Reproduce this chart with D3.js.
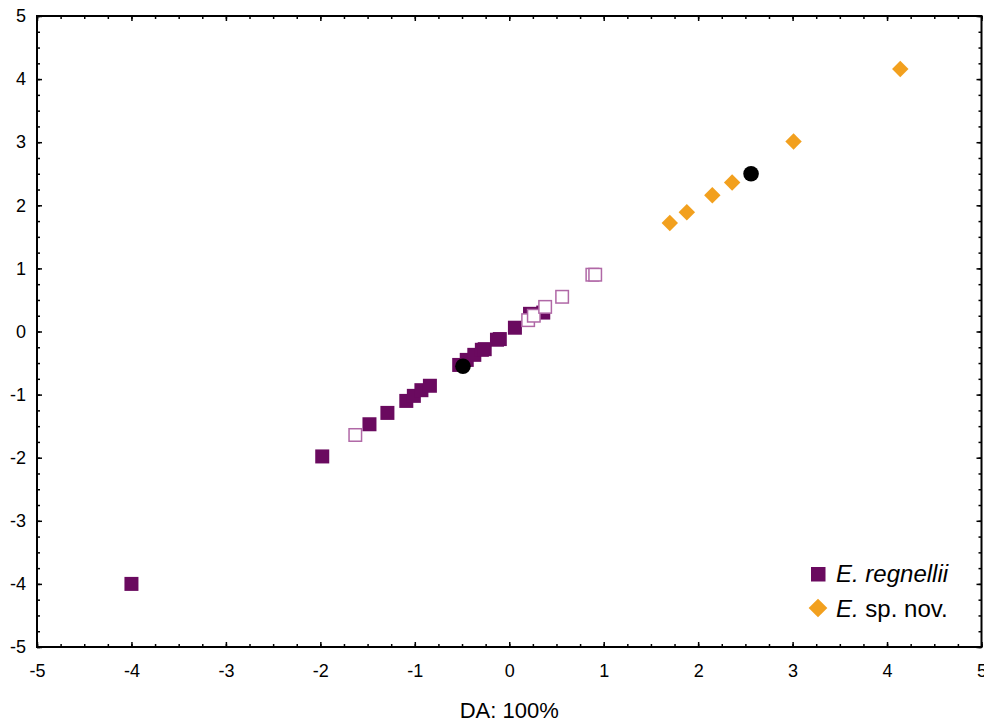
<!DOCTYPE html>
<html>
<head>
<meta charset="utf-8">
<script src="https://cdn.jsdelivr.net/npm/d3@7"></script>
<style>
  body { margin: 0; background: #fff; }
  svg text { font-family: "Liberation Sans", Arial, sans-serif; }
</style>
</head>
<body>
<div class="canvas"></div>
<script>
// data
const regX = [-4.0, -1.98, -1.48, -1.29, -1.09, -1.01, -0.93, -0.84, -0.53, -0.45, -0.37, -0.29, -0.26, -0.13, -0.10, 0.06, 0.22, 0.36];
const regY = [-4.0, -1.98, -1.47, -1.29, -1.10, -1.02, -0.93, -0.86, -0.53, -0.45, -0.37, -0.29, -0.28, -0.13, -0.12, 0.06, 0.28, 0.30];

const openX = [-1.63, 0.20, 0.26, 0.38, 0.56, 0.88, 0.91];
const openY = [-1.64, 0.18, 0.25, 0.39, 0.55, 0.90, 0.90];

const novX = [1.70, 1.88, 2.15, 2.36, 3.01, 4.14];
const novY = [1.72, 1.89, 2.16, 2.36, 3.01, 4.16];

const centX = [-0.49, 2.56];
const centY = [-0.55, 2.50];

const xTicks = [-5, -4, -3, -2, -1, 0, 1, 2, 3, 4, 5];
const yTicks = [5, 4, 3, 2, 1, 0, -1, -2, -3, -4, -5];

const purple = '#6a0a5f';
const openPurple = '#b068a6';
const orange = '#f2a01e';

const margin = { top: 16, right: 2.5, bottom: 79, left: 37 };
const width = 984, height = 726;
const graphWidth = width - margin.left - margin.right;
const graphHeight = height - margin.top - margin.bottom;

const svg = d3.select('.canvas')
  .append('svg')
  .attr('width', width)
  .attr('height', height);

const graph = svg.append('g')
  .attr('transform', `translate(${margin.left}, ${margin.top})`);

// scales
const x = d3.scaleLinear().domain([-5, 5]).range([0, graphWidth]);
const y = d3.scaleLinear().domain([-5, 5]).range([graphHeight, 0]);

const minorX = d3.range(-5, 5.001, 0.25);
const minorY = d3.range(-5, 5.001, 0.25);

// axes: ticks point inward, plain hyphen for negatives
const addAxis = (axisFn, scale, transform, vals, size, labels) => {
  const g = graph.append('g').attr('transform', transform);
  const ax = axisFn(scale).tickValues(vals).tickSizeInner(size).tickSizeOuter(0)
    .tickFormat(labels ? d => String(d) : '');
  g.call(ax);
  g.select('.domain').remove();
  g.selectAll('line').attr('stroke', '#000').attr('stroke-width', 1.5);
  return g;
};

// minor ticks
addAxis(d3.axisBottom, x, `translate(0,${graphHeight})`, minorX, -3, false);
addAxis(d3.axisTop, x, 'translate(0,0)', minorX, -3, false);
addAxis(d3.axisLeft, y, 'translate(0,0)', minorY, -3, false);
addAxis(d3.axisRight, y, `translate(${graphWidth},0)`, minorY, -3, false);

// major ticks
const xAxisGroup = addAxis(d3.axisBottom, x, `translate(0,${graphHeight})`, xTicks, -5, true);
addAxis(d3.axisTop, x, 'translate(0,0)', xTicks, -5, false);
const yAxisGroup = addAxis(d3.axisLeft, y, 'translate(0,0)', yTicks, -5, true);
addAxis(d3.axisRight, y, `translate(${graphWidth},0)`, yTicks, -5, false);

xAxisGroup.selectAll('text')
  .attr('font-size', 18)
  .attr('fill', '#000')
  .attr('y', 17);
yAxisGroup.selectAll('text')
  .attr('font-size', 18)
  .attr('fill', '#000')
  .attr('x', -11);

// frame
graph.append('rect')
  .attr('width', graphWidth)
  .attr('height', graphHeight)
  .attr('fill', 'none')
  .attr('stroke', '#000')
  .attr('stroke-width', 2);

// axis title
svg.append('text')
  .attr('x', margin.left + graphWidth / 2)
  .attr('y', 718)
  .attr('text-anchor', 'middle')
  .attr('font-size', 22)
  .text('DA: 100%');

const sq = 14;

// E. regnellii filled squares
graph.selectAll('rect.reg')
  .data(regX.map((d, i) => [d, regY[i]]))
  .enter().append('rect')
  .attr('class', 'reg')
  .attr('x', d => x(d[0]) - sq / 2)
  .attr('y', d => y(d[1]) - sq / 2)
  .attr('width', sq)
  .attr('height', sq)
  .attr('fill', purple);

// open squares
graph.selectAll('rect.open')
  .data(openX.map((d, i) => [d, openY[i]]))
  .enter().append('rect')
  .attr('class', 'open')
  .attr('x', d => x(d[0]) - (sq - 1.5) / 2)
  .attr('y', d => y(d[1]) - (sq - 1.5) / 2)
  .attr('width', sq - 1.5)
  .attr('height', sq - 1.5)
  .attr('fill', '#fff')
  .attr('stroke', openPurple)
  .attr('stroke-width', 1.5);

// E. sp. nov. diamonds
const diamond = d3.symbol().type(d3.symbolSquare).size(135);
graph.selectAll('path.nov')
  .data(novX.map((d, i) => [d, novY[i]]))
  .enter().append('path')
  .attr('class', 'nov')
  .attr('d', diamond)
  .attr('transform', d => `translate(${x(d[0])},${y(d[1])}) rotate(45)`)
  .attr('fill', orange);

// centroids
graph.selectAll('circle')
  .data(centX.map((d, i) => [d, centY[i]]))
  .enter().append('circle')
  .attr('cx', d => x(d[0]))
  .attr('cy', d => y(d[1]))
  .attr('r', 7.8)
  .attr('fill', '#000');

// legend
const legend = svg.append('g');
legend.append('rect')
  .attr('x', 811)
  .attr('y', 567)
  .attr('width', 14.5)
  .attr('height', 14.5)
  .attr('fill', purple);
legend.append('path')
  .attr('d', d3.symbol().type(d3.symbolSquare).size(175))
  .attr('transform', 'translate(818,608) rotate(45)')
  .attr('fill', orange);

const t1 = legend.append('text')
  .attr('x', 836)
  .attr('y', 582)
  .attr('font-size', 24);
t1.append('tspan').attr('font-style', 'italic').text('E. regnellii');

const t2 = legend.append('text')
  .attr('x', 836)
  .attr('y', 617)
  .attr('font-size', 24);
t2.append('tspan').attr('font-style', 'italic').text('E.');
t2.append('tspan').text(' sp. nov.');
</script>
</body>
</html>
